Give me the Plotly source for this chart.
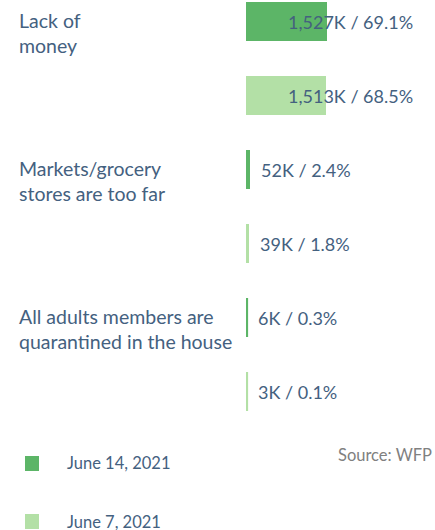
import plotly.graph_objects as go

categories = ["Lack of<br>money", "Markets/grocery<br>stores are too far", "All adults members are<br>quarantined in the house"]
series_names = ["June 14, 2021", "June 7, 2021"]
june14_k = [1527, 52, 6]
june14_pct = [69.1, 2.4, 0.3]
june7_k = [1513, 39, 3]
june7_pct = [68.5, 1.8, 0.1]

DARK = "#5cb567"
LIGHT = "#b3e0a6"
TXT = "#44617f"
FONT = "Lato"
FW, FH = 435, 530
H = 438          # plot-area height in px

rows14 = [2 * i for i in range(len(categories))]
rows7 = [2 * i + 1 for i in range(len(categories))]
BW = 39 / 74

fig = go.Figure()
for vals, rows, col, name in [(june14_k, rows14, DARK, series_names[0]),
                              (june7_k, rows7, LIGHT, series_names[1])]:
    fig.add_trace(go.Bar(x=vals, y=rows, orientation="h", name=name,
                         marker=dict(color=col, line=dict(width=0)), width=BW,
                         hoverinfo="skip", showlegend=False))
    # minimum-visible baseline stroke for each bar (as in the original's tiny bars)
    lx, ly = [], []
    for r in rows:
        lx += [0, 0, None]
        ly += [r - BW / 2, r + BW / 2, None]
    fig.add_trace(go.Scatter(x=lx, y=ly, mode="lines", line=dict(color=col, width=2.2),
                             hoverinfo="skip", showlegend=False))

annotations = []
for vals, pcts, rows in [(june14_k, june14_pct, rows14), (june7_k, june7_pct, rows7)]:
    for v, p, r in zip(vals, pcts, rows):
        label = f"{v:,}K / {p}%"
        if v > 1000:
            annotations.append(dict(x=415 / FW, xref="paper", y=r, yref="y", text=label,
                                    xanchor="right", yanchor="middle", showarrow=False,
                                    font=dict(family=FONT, size=18, color=TXT)))
        else:
            annotations.append(dict(x=v, xref="x", y=r, yref="y", text=label, xshift=9,
                                    xanchor="left", yanchor="middle", showarrow=False,
                                    font=dict(family=FONT, size=18, color=TXT)))

for i, c in enumerate(categories):
    annotations.append(dict(x=17 / FW, xref="paper", y=rows14[i], yref="y", yshift=-11,
                            text=c, xanchor="left", yanchor="middle", align="left",
                            showarrow=False, font=dict(family=FONT, size=19.5, color=TXT)))

shapes = []
leg_colors = [DARK, LIGHT]
for j, name in enumerate(series_names):
    top = 456 + 58 * j
    shapes.append(dict(type="rect", xref="paper", yref="paper",
                       x0=25 / FW, x1=39 / FW, y0=(H - top) / H, y1=(H - top - 15) / H,
                       fillcolor=leg_colors[j], line=dict(width=0)))
    annotations.append(dict(x=65 / FW, xref="paper", y=(H - top - 7.5) / H, yref="paper",
                            text=name, xanchor="left", yanchor="middle", showarrow=False,
                            font=dict(family=FONT, size=16.5, color=TXT)))

annotations.append(dict(x=434 / FW, xref="paper", y=(H - 455) / H, yref="paper",
                        text="Source: WFP", xanchor="right", yanchor="middle", showarrow=False,
                        font=dict(family=FONT, size=16.5, color="#808080")))

ytop = -21.5 / 74
ybot = ytop + H / 74
fig.update_layout(
    width=FW, height=FH, margin=dict(l=0, r=0, t=0, b=FH - H),
    paper_bgcolor="white", plot_bgcolor="white",
    xaxis=dict(domain=[246 / FW, 1], range=[-19, 3588], visible=False, fixedrange=True),
    yaxis=dict(range=[ybot, ytop], visible=False, fixedrange=True),
    bargap=0, annotations=annotations, shapes=shapes, showlegend=False,
)
fig.write_html("out.html", config={"displayModeBar": False},
               post_script="document.body.style.margin='0';document.body.style.overflow='hidden';")
